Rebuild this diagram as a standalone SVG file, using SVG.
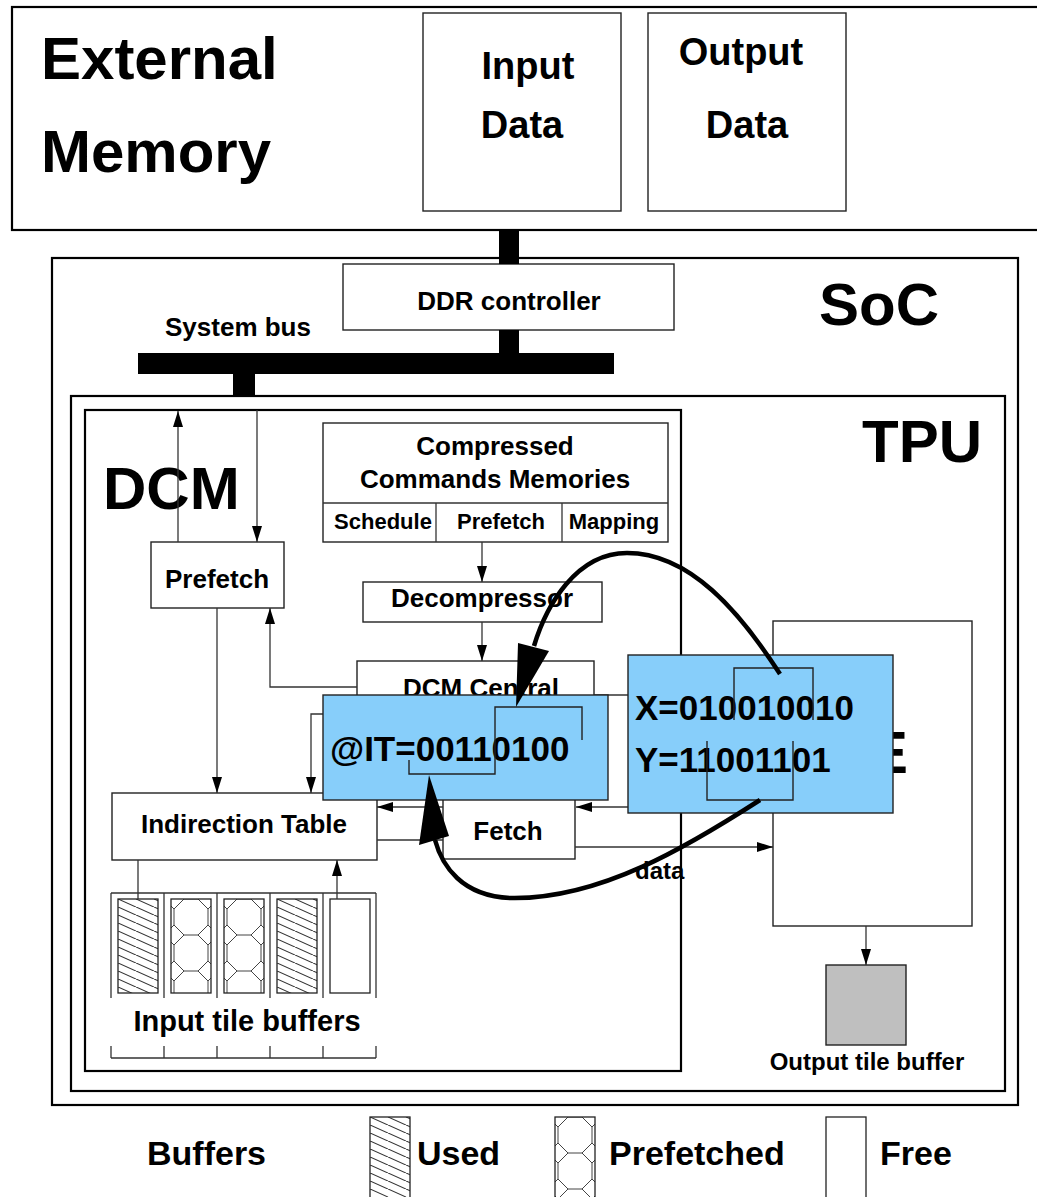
<svg xmlns="http://www.w3.org/2000/svg" width="1037" height="1197" viewBox="0 0 1037 1197">
  <defs>
    <style>
      text { font-family: "Liberation Sans", Arial, sans-serif; font-weight: bold; fill: #000; }
      .frame { fill: #fff; stroke: #000; stroke-width: 2.2; }
      .box { fill: #fff; stroke: #222; stroke-width: 1.4; }
      .blue { fill: #87cefa; stroke: #222; stroke-width: 1.4; }
      .bar { fill: #000; }
      .wire { fill: none; stroke: #333; stroke-width: 1.3; }
      .arrow { marker-end: url(#ah); }
      .bits { fill: none; stroke: #222; stroke-width: 1.4; }
      .flow { fill: none; stroke: #000; stroke-width: 4.5; }
      .lbl26 { font-size: 26px; }
      .lbl22 { font-size: 22px; }
      .big { font-size: 60px; }
      .reg { font-size: 35px; }
      .legend { font-size: 34px; }
    </style>
    <marker id="ah" viewBox="0 0 16 10" refX="16" refY="5" markerWidth="16" markerHeight="10" markerUnits="userSpaceOnUse" orient="auto">
      <path d="M0,0 L16,5 L0,10 z" fill="#000"/>
    </marker>
    <!-- diagonal hatch for used buffers -->
    <pattern id="used" patternUnits="userSpaceOnUse" width="18" height="8">
      <path d="M0,0 L18,8 M-18,0 L0,8 M18,0 L36,8" stroke="#333" stroke-width="1.1" fill="none"/>
    </pattern>
    <!-- stacked octagons for prefetched buffers -->
    <pattern id="prefetched" patternUnits="userSpaceOnUse" width="40" height="36">
      <path d="M13,0 L27,0 L37,10 L37,26 L27,36 L13,36 L3,26 L3,10 Z M37,10 L40,7 M37,26 L40,29 M3,10 L0,7 M3,26 L0,29" stroke="#444" stroke-width="1" fill="none"/>
    </pattern>
  </defs>

  <rect width="1037" height="1197" fill="#fff"/>

  <!-- external memory -->
  <g id="external-memory">
    <rect class="frame" x="12" y="7" width="1040" height="223"/>
    <text class="big" x="41" y="79" font-size="61">External</text>
    <text class="big" x="41" y="172" font-size="61">Memory</text>
  </g>
  <g id="input-data">
    <rect class="box" x="423" y="13" width="198" height="198"/>
    <text x="528" y="79" font-size="38" text-anchor="middle">Input</text>
    <text x="522" y="138" font-size="38" text-anchor="middle">Data</text>
  </g>
  <g id="output-data">
    <rect class="box" x="648" y="13" width="198" height="198"/>
    <text x="741" y="65" font-size="38" text-anchor="middle">Output</text>
    <text x="747" y="138" font-size="38" text-anchor="middle">Data</text>
  </g>

  <!-- SoC -->
  <g id="soc">
    <rect class="frame" x="52" y="258" width="966" height="847"/>
    <text class="big" x="819" y="325">SoC</text>
  </g>
  <g id="ddr-controller">
    <rect class="box" x="343" y="264" width="331" height="66"/>
    <text class="lbl26" x="509" y="310" text-anchor="middle">DDR controller</text>
  </g>
  <g id="system-bus">
    <rect class="bar" x="138" y="353" width="476" height="21"/>
    <text class="lbl26" x="165" y="336">System bus</text>
  </g>

  <!-- TPU and DCM -->
  <g id="tpu">
    <rect class="frame" x="71" y="396" width="934" height="695"/>
    <text class="big" x="862" y="462">TPU</text>
  </g>
  <g id="dcm">
    <rect class="frame" x="85" y="410" width="596" height="661" stroke-width="1.8"/>
    <text class="big" x="103" y="509">DCM</text>
  </g>

  <g id="compressed-commands">
    <rect class="box" x="323" y="423" width="345" height="119"/>
    <line class="wire" x1="323" y1="503" x2="668" y2="503"/>
    <line class="wire" x1="436" y1="503" x2="436" y2="542"/>
    <line class="wire" x1="562" y1="503" x2="562" y2="542"/>
    <text class="lbl26" x="495" y="455" text-anchor="middle">Compressed</text>
    <text class="lbl26" x="495" y="488" text-anchor="middle">Commands Memories</text>
    <text class="lbl22" x="383" y="529" text-anchor="middle">Schedule</text>
    <text class="lbl22" x="501" y="529" text-anchor="middle">Prefetch</text>
    <text class="lbl22" x="614" y="529" text-anchor="middle">Mapping</text>
  </g>
  <g id="prefetch">
    <rect class="box" x="151" y="542" width="133" height="66"/>
    <text class="lbl26" x="217" y="588" text-anchor="middle">Prefetch</text>
  </g>
  <g id="decompressor">
    <rect class="box" x="363" y="582" width="239" height="40"/>
    <text class="lbl26" x="482" y="607" text-anchor="middle">Decompressor</text>
  </g>
  <g id="dcm-central">
    <rect class="box" x="357" y="661" width="237" height="90"/>
    <text class="lbl26" x="481" y="697" text-anchor="middle">DCM Central</text>
  </g>
  <g id="indirection-table">
    <rect class="box" x="112" y="793" width="265" height="67"/>
    <text class="lbl26" x="244" y="833" text-anchor="middle">Indirection Table</text>
  </g>
  <g id="fetch">
    <rect class="box" x="443" y="780" width="132" height="79"/>
    <text class="lbl26" x="508" y="840" text-anchor="middle">Fetch</text>
  </g>
  <g id="pe">
    <rect class="box" x="773" y="621" width="199" height="305" stroke-width="2"/>
    <text class="big" x="868" y="773" text-anchor="middle">PE</text>
  </g>
  <g id="output-tile-buffer">
    <rect x="826" y="965" width="80" height="80" fill="#bfbfbf" stroke="#222" stroke-width="1.4"/>
    <text x="867" y="1070" font-size="24" text-anchor="middle">Output tile buffer</text>
  </g>

  <!-- input tile buffers: five slots -->
  <g id="input-tile-buffers">
    <path class="wire" d="M111,893 H376 M111,893 V998 M164,893 V998 M217,893 V998 M270,893 V998 M323,893 V998 M376,893 V998"/>
    <rect x="0" y="0" width="40" height="94" transform="translate(118,899)" fill="url(#used)" stroke="#222" stroke-width="1.3"/>
    <rect x="0" y="0" width="40" height="94" transform="translate(171,899)" fill="url(#prefetched)" stroke="#222" stroke-width="1.3"/>
    <rect x="0" y="0" width="40" height="94" transform="translate(224,899)" fill="url(#prefetched)" stroke="#222" stroke-width="1.3"/>
    <rect x="0" y="0" width="40" height="94" transform="translate(277,899)" fill="url(#used)" stroke="#222" stroke-width="1.3"/>
    <rect x="330" y="899" width="40" height="94" fill="#fff" stroke="#222" stroke-width="1.3"/>
    <text x="247" y="1031" font-size="29" text-anchor="middle">Input tile buffers</text>
    <path class="wire" d="M111,1058 H376 M111,1046 V1058 M164,1046 V1058 M217,1046 V1058 M270,1046 V1058 M323,1046 V1058 M376,1046 V1058"/>
  </g>

  <!-- wiring between blocks -->
  <g id="connectors">
    <rect class="bar" x="499" y="230" width="20" height="34"/>
    <rect class="bar" x="499" y="330" width="20" height="23"/>
    <rect class="bar" x="233" y="374" width="22" height="22"/>
    <path class="wire arrow" d="M178,542 V411"/>
    <path class="wire arrow" d="M257,410 V542"/>
    <path class="wire arrow" d="M217,608 V793"/>
    <path class="wire arrow" d="M357,687 H270 V608"/>
    <path class="wire arrow" d="M482,542 V582"/>
    <path class="wire arrow" d="M482,622 V661"/>
    <path class="wire arrow" d="M357,714 H311 V793"/>
    <path class="wire" d="M594,695 H773"/>
    <path class="wire arrow" d="M773,807 H576"/>
    <path class="wire arrow" d="M443,807 H377"/>
    <path class="wire" d="M377,840 H443"/>
    <path class="wire arrow" d="M575,847 H773"/>
    <text x="635" y="879" font-size="24">data</text>
    <path class="wire arrow" d="M866,926 V965"/>
    <path class="wire" d="M138,860 V899"/>
    <path class="wire arrow" d="M337,899 V860"/>
  </g>

  <!-- register contents -->
  <g id="it-register">
    <rect class="blue" x="323" y="695" width="285" height="105"/>
    <text class="reg" x="330" y="761">@IT=00110100</text>
    <polyline class="bits" points="409,760 409,774 495,774 495,707 582,707 582,740"/>
  </g>
  <g id="xy-register">
    <rect class="blue" x="628" y="655" width="265" height="158"/>
    <text class="reg" x="635" y="720">X=010010010</text>
    <text class="reg" x="635" y="772">Y=11001101</text>
    <polyline class="bits" points="734,720 734,668 813,668 813,720"/>
    <polyline class="bits" points="707,741 707,800 793,800 793,741"/>
  </g>

  <!-- bit fields feeding the indirection address -->
  <g id="bit-flow">
    <path class="flow" d="M780,674 C740,612 690,553 627,553 C576,553 546,606 534,646"/>
    <polygon points="518,643 549,651 516,707" fill="#000"/>
    <path class="flow" d="M760,800 C690,845 600,900 510,898 C462,896 442,866 435,840"/>
    <polygon points="419,845 449,836 429,775" fill="#000"/>
  </g>

  <!-- legend -->
  <g id="legend">
    <text class="legend" x="147" y="1165">Buffers</text>
    <rect x="0" y="0" width="40" height="90" transform="translate(370,1117)" fill="url(#used)" stroke="#222" stroke-width="1.3"/>
    <text class="legend" x="417" y="1165">Used</text>
    <rect x="0" y="0" width="40" height="90" transform="translate(555,1117)" fill="url(#prefetched)" stroke="#222" stroke-width="1.3"/>
    <text class="legend" x="609" y="1165">Prefetched</text>
    <rect x="826" y="1117" width="40" height="90" fill="#fff" stroke="#222" stroke-width="1.3"/>
    <text class="legend" x="880" y="1165">Free</text>
  </g>
</svg>
